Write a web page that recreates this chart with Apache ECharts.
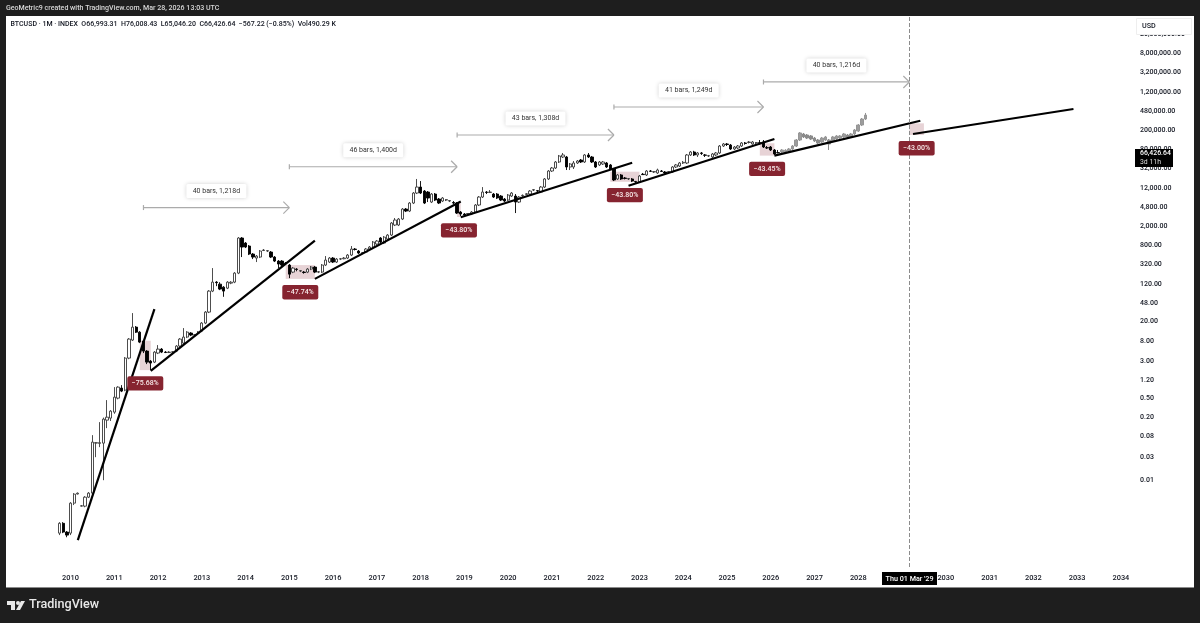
<!doctype html>
<html>
<head>
<meta charset="utf-8">
<title>BTCUSD 1M</title>
<script src="https://cdn.jsdelivr.net/npm/echarts@6/dist/echarts.min.js"></script>
<style>
    body{margin:0;background:#1e1e1e;}
    #main{width:1200px;height:623px;}
</style>
</head>
<body>
<div id="main"></div>
<script>
    // monthly candles, first one is 2009-10
    var firstCandle = '2009-10';
    var opens = [
        .00078,.00125,.00082,.00078,.00329,.0051,.00285,.00285,.00438,.00532,
        .0587,.058,.0587,.177,.195,.26,.509,.824,.748,3.48,
        8.26,15.4,12.1,7.87,4.87,3.01,2.87,4.43,5.36,4.64,
        4.55,4.64,4.87,6.2,7.15,9.55,11.6,10.5,11.6,12.7,
        18.7,31.7,86.8,133.6,121.3,105,100,127.3,133.6,206,
        1110,872,755,514,424,445,610,594,566,445,
        367,367,334,303,216,250,227,216,216,250,
        275,216,216,303,350,424,350,404,410,424,
        490,654,594,539,566,654,719,831,1110,872,
        1055,1280,2070,2070,2760,4460,4050,5950,9620,12830,
        10590,10090,6240,9170,7210,6550,6875,6550,6100,5950,
        3860,3510,3510,3510,3860,5410,7940,10090,9900,9170,
        9170,8330,7210,6875,8330,8330,6240,8400,9000,9170,
        11110,10800,10090,12830,18900,27700,32000,42700,54300,54300,
        33600,33600,40700,46950,42700,59800,54300,42700,37000,38800,
        40700,37000,30500,18900,22900,19800,18900,18900,16800,16300,
        23700,22900,27700,26400,25200,27700,26400,26400,26400,33600,
        35200,40700,40700,59800,69000,59800,65800,59800,57000,54300,
        59800,65800,92000,101300,96500,79700,83600,92000,106300,109000,
        101300,106300,108000,111500,85000,87700,75900,66993
    ];
    var closes = [
        .00125,.00082,.00071,.00329,.00507,.0053,.0029,.00438,.00532,.0616,
        .06,.06,.186,.204,.273,.534,.864,.713,3.48,8.67,
        15.4,12.1,7.5,4.87,2.87,2.74,4.64,5.36,4.64,4.55,
        4.64,4.7,6.2,8.67,9.55,12.1,10.5,10.7,12.1,18.7,
        31.7,86.8,133.6,130,95.5,86.8,133.6,133,206,1110,
        719,719,514,445,467,594,623,605,445,367,
        318,303,325,196,262,245,232,212,250,275,
        216,220,303,385,424,350,404,410,424,490,
        654,640,539,550,654,719,915,960,915,1160,
        1280,2280,2631,2760,4460,4050,5950,9620,12830,9620,
        5950,7570,9170,6875,5950,7570,7000,6700,5950,3680,
        3510,3340,3600,3860,5410,7940,10090,9900,10090,7940,
        7570,6875,6550,8740,9620,6240,7940,8600,9300,10590,
        11300,10590,12830,18900,27700,32000,42700,57000,59800,33600,
        38800,40700,44800,42700,59800,54300,42700,33600,42700,42700,
        33600,30500,17970,22900,18900,19400,19300,17100,16500,21800,
        23300,27700,27300,26900,29050,27200,25200,26900,33600,37000,
        40700,42000,59800,69000,59800,65800,64500,59000,57800,62700,
        65800,92000,101300,99000,79700,87700,92000,106300,104000,111500,
        111500,108000,106300,87700,83600,75900,62700,66427
    ];
    var lows = [
        .00071,.00078,.00064,.00071,.003,.005,.0028,.0027,.0042,.005,
        .0299,.0484,.0099,.1205,.17,.24,.48,.68,.71,3.3,
        7.9,11.6,7.15,4.43,2.61,1.955,2.74,4.22,4.43,4.43,
        4.43,4.43,4.64,5.9,6.82,9.1,10,10,11,12.1,
        17.8,30.2,82.7,110,91,66,95.5,121,127,196,
        445,686,490,404,350,424,594,566,424,350,
        262,275,303,162,206,225,216,200,206,238,
        206,206,206,289,334,334,334,385,400,404,
        467,610,514,514,539,623,686,792,872,831,
        1000,1220,1970,1970,2631,3860,3860,5670,9170,9170,
        5670,6240,5950,6550,5670,6240,6550,6240,5670,3510,
        3190,3190,3340,3340,3680,5150,7570,9170,9620,7570,
        7210,6550,6240,6550,7940,3680,5950,8000,8740,8740,
        10590,10090,9620,12230,18000,26400,30500,40700,51700,29050,
        29050,30500,38800,40700,40700,51700,40700,32000,35200,37000,
        32000,29050,17100,18000,18000,18500,18000,16300,15600,15600,
        22900,21800,26400,25200,24000,26400,24000,25200,25200,32000,
        33600,38800,38800,57000,57000,54300,59800,54300,54300,51700,
        57000,62700,87700,92000,76000,75900,79700,87700,98000,104000,
        98000,101300,99000,83600,79700,72400,59800,65046
    ];
    var highs = [
        .00132,.00132,.00086,.00345,.00532,.0055,.003,.0046,.0056,.0861,
        .0616,.161,.2,.463,.286,.864,.9,.95,3.65,9.1,
        30.2,16.2,12.7,8.26,5.11,3.16,4.87,6.5,5.63,4.87,
        4.87,4.87,6.5,9.1,14.7,12.7,12.1,11,12.7,19.6,
        33.3,91.1,262,140,133,110,140,140,216,1160,
        1160,915,792,539,490,623,654,623,594,467,
        385,385,350,318,275,262,238,227,262,289,
        289,227,318,467,445,445,424,424,445,514,
        755,686,623,566,686,755,960,1007,1160,1220,
        1340,2390,2900,2900,4680,4680,6240,10090,18900,17100,
        11110,10590,9620,9620,7570,7940,7210,6875,6550,6240,
        4050,3680,3680,4050,5670,8330,12800,10590,11110,9620,
        9620,8740,7570,9170,10090,9170,8330,9000,9620,11110,
        11660,11110,13460,19800,29050,33600,44800,59800,65800,57000,
        40700,44800,46950,49300,62700,65800,57000,44800,44800,44800,
        42700,38800,32000,24000,24000,20800,19800,19800,17100,22900,
        25200,29050,29050,27700,31000,29050,27700,27700,35200,38800,
        42700,44800,62700,72400,73000,69000,69000,62700,59800,65800,
        69000,96500,106300,106300,101300,92000,96500,111500,111500,117000,
        117000,111500,122700,122700,92000,92000,79700,76008
    ];

    // grey projected bars after the last real bar
    var ghostStart = '2026-04';
    var ghostOpens = [69000,70000,72400,79700,92000,122700,163800,156000,149000,135000,122700,111500,
        122700,122700,117000,128600,135000,142000,156000,142000,163800,189000,252000,336000];
    var ghostCloses = [75900,75000,79700,92000,122700,172000,142000,135000,128600,117000,106300,135000,
        142000,101300,142000,149000,149000,163800,142000,163800,198400,252000,336000,406000];
    var ghostLows = [65800,67000,69000,75900,87700,117000,135000,128600,122700,111500,101300,106300,
        117000,75900,111500,122700,128600,135000,135000,135000,156000,180000,240000,320000];
    var ghostHighs = [79700,79000,83600,96500,128600,180000,172000,163800,156000,142000,128600,142000,
        149000,128600,149000,156000,156000,172000,163800,172000,208000,264000,353000,450000];

    // black trend lines
    var trendFromMonth = ['2010-03','2011-11','2015-08','2018-12','2022-10','2026-02','2029-04'];
    var trendFromPrice = [.00056,1.89,156,3000,13650,58000,163800];
    var trendToMonth = ['2011-12','2015-08','2018-12','2022-11','2026-02','2029-06','2032-12'];
    var trendToPrice = [36.6,975,6400,41300,128600,310000,544000];

    // grey "bars" arrows
    var rangeFrom = ['2011-09','2015-01','2018-11','2022-06','2025-11'];
    var rangeTo = ['2015-01','2018-11','2022-06','2025-11','2029-03'];
    var rangePrice = [4790,34000,156000,598600,1990000];
    var rangeLabels = ['40 bars, 1,218d','46 bars, 1,400d','43 bars, 1,308d','41 bars, 1,249d','40 bars, 1,216d'];

    // drawdown boxes and their badges
    var dropFrom = ['2011-08','2014-12','2018-11','2022-05','2025-10','2029-03'];
    var dropTo = ['2011-11','2015-08','2018-12','2023-01','2026-02','2029-07'];
    var dropTop = [8,303,5950,26800,104700,273000];
    var dropBottom = [1.955,156,3040,16500,58000,156000];
    var dropLabels = ['\u221275.68%','\u221247.74%','\u221243.80%','\u221243.80%','\u221243.45%','\u221243.00%'];

    var yTicks = [20000000,8000000,3200000,1200000,480000,200000,80000,32000,12000,4800,2000,800,320,120,48,20,8,3,1.2,0.5,0.2,0.08,0.03,0.01];
    var markerMonth = '2029-03';

    var months = [];
    for (var y = 2008; y <= 2034; y++) {
        for (var m = 1; m <= 12; m++) {
            var key = y + '-' + (m < 10 ? '0' + m : m);
            if (key >= '2008-08' && key <= '2034-03') months.push(key);
        }
    }
    var firstIdx = months.indexOf(firstCandle);
    var ghostIdx = months.indexOf(ghostStart);
    var font = 'Roboto';

    var myChart = echarts.init(document.getElementById('main'));

    var trendSeries = trendFromMonth.map(function (from, i) {
        return {
            type: 'line', z: 4, silent: true, showSymbol: false, symbol: 'none',
            lineStyle: {color: '#000', width: 2.2},
            data: [[from, trendFromPrice[i]], [trendToMonth[i], trendToPrice[i]]]
        };
    });

    var option = {
        animation: false,
        backgroundColor: '#1e1e1e',
        grid: {left: 6.7, top: 17, width: 1123.3, height: 550},
        xAxis: {
            type: 'category',
            data: months,
            axisLine: {show: false},
            axisTick: {show: false},
            splitLine: {show: false},
            axisLabel: {
                color: '#131722', fontSize: 7.4, fontWeight: 500, fontFamily: font, margin: 8, hideOverlap: false,
                interval: function (i, v) { return v.slice(5) === '01' && v >= '2010'; },
                formatter: function (v) { return v.slice(0, 4); }
            }
        },
        yAxis: {
            type: 'log',
            logBase: 10,
            position: 'right',
            min: 1.534e-4,
            max: 4.504e7,
            axisLine: {show: false},
            axisTick: {show: false},
            splitLine: {show: false},
            minorTick: {show: false},
            axisLabel: {
                customValues: yTicks,
                color: '#131722', fontSize: 7, fontWeight: 500, fontFamily: font, margin: 10,
                formatter: function (v) {
                    return Number(v).toLocaleString('en-US', {minimumFractionDigits: 2, maximumFractionDigits: 2});
                }
            }
        },
        series: [
            // pink boxes
            {
                type: 'custom', z: 1, silent: true, clip: false,
                data: dropFrom.map(function (d, i) { return [d, dropTop[i]]; }),
                renderItem: function (params, api) {
                    var i = params.dataIndex;
                    var a = api.coord([months.indexOf(dropFrom[i]), dropTop[i]]);
                    var b = api.coord([months.indexOf(dropTo[i]), dropBottom[i]]);
                    return {type: 'rect', shape: {x: a[0], y: a[1], width: b[0] - a[0], height: b[1] - a[1]},
                        style: {fill: 'rgba(134,36,48,0.2)'}};
                }
            },
            {
                type: 'candlestick',
                z: 3,
                silent: true,
                barWidth: 2.8,
                encode: {x: 0, y: [1, 2, 3, 4]},
                data: opens.map(function (o, i) { return [firstIdx + i, o, closes[i], lows[i], highs[i]]; }),
                itemStyle: {color: '#fff', color0: '#000', borderColor: '#3a3a3a', borderColor0: '#000', borderColorDoji: '#222', borderWidth: 0.9}
            },
            {
                type: 'candlestick',
                z: 3,
                silent: true,
                barWidth: 3.2,
                encode: {x: 0, y: [1, 2, 3, 4]},
                data: ghostOpens.map(function (o, i) { return [ghostIdx + i, o, ghostCloses[i], ghostLows[i], ghostHighs[i]]; }),
                itemStyle: {color: '#9c9c9c', color0: '#8a8a8a', borderColor: '#969696', borderColor0: '#8a8a8a', borderWidth: 1},
                markLine: {
                    silent: true, symbol: 'none', label: {show: false},
                    lineStyle: {color: '#8c8c8c', type: 'dashed', width: 1},
                    data: [{xAxis: markerMonth}]
                }
            }
        ].concat(trendSeries).concat([
            // arrows with their bar counts
            {
                type: 'custom', z: 5, silent: true, clip: false,
                data: rangeFrom.map(function (d, i) { return [d, rangePrice[i]]; }),
                renderItem: function (params, api) {
                    var i = params.dataIndex;
                    var a = api.coord([months.indexOf(rangeFrom[i]), rangePrice[i]]);
                    var b = api.coord([months.indexOf(rangeTo[i]), rangePrice[i]]);
                    var mid = (a[0] + b[0]) / 2;
                    var line = {stroke: '#ababab', lineWidth: 1.2};
                    return {type: 'group', children: [
                        {type: 'line', shape: {x1: a[0], y1: a[1], x2: b[0], y2: b[1]}, style: line},
                        {type: 'line', shape: {x1: a[0], y1: a[1] - 2.5, x2: a[0], y2: a[1] + 2.5}, style: line},
                        {type: 'line', shape: {x1: b[0] - 6, y1: a[1] - 6, x2: b[0], y2: b[1]}, style: line},
                        {type: 'line', shape: {x1: b[0] - 6, y1: a[1] + 6, x2: b[0], y2: b[1]}, style: line},
                        {type: 'rect', shape: {x: mid - 30, y: a[1] - 23.5, width: 60, height: 14, r: 1.5},
                            style: {fill: '#fff', shadowBlur: 4, shadowColor: 'rgba(0,0,0,0.18)'}},
                        {type: 'text', style: {text: rangeLabels[i], x: mid, y: a[1] - 16.5, fill: '#333', align: 'center', verticalAlign: 'middle',
                            font: '7px ' + font}}
                    ]};
                }
            },
            // red badges under the boxes
            {
                type: 'custom', z: 6, silent: true, clip: false,
                data: dropFrom.map(function (d, i) { return [d, dropBottom[i]]; }),
                renderItem: function (params, api) {
                    var i = params.dataIndex;
                    var a = api.coord([months.indexOf(dropFrom[i]), dropBottom[i]]);
                    var b = api.coord([months.indexOf(dropTo[i]), dropBottom[i]]);
                    var cx = (a[0] + b[0]) / 2, cy = a[1] + 13.3;
                    return {type: 'group', children: [
                        {type: 'rect', shape: {x: cx - 18, y: cy - 7.2, width: 36, height: 14.4, r: 2}, style: {fill: '#862430'}},
                        {type: 'text', style: {text: dropLabels[i], x: cx, y: cy, fill: '#f7e9e9', align: 'center', verticalAlign: 'middle',
                            font: '500 7px ' + font}}
                    ]};
                }
            }
        ]),
        graphic: [
            {type: 'rect', z: -10, silent: true, shape: {x: 6, y: 16, width: 1188, height: 571}, style: {fill: '#fff'}},
            {type: 'rect', z: -9, silent: true, shape: {x: 6, y: 587, width: 1188, height: 1}, style: {fill: '#8a8a8a'}},
            {type: 'text', z: 20, silent: true, style: {text: 'GeoMetric9 created with TradingView.com, Mar 28, 2026 13:03 UTC', x: 6, y: 8.5,
                fill: '#d8d8d8', verticalAlign: 'middle', font: '500 7.05px ' + font}},
            {type: 'text', z: 20, silent: true, style: {text: 'BTCUSD \u00b7 1M \u00b7 INDEX  O66,993.31  H76,008.43  L65,046.20  C66,426.64  \u2212567.22 (\u22120.85%)  Vol490.29 K',
                x: 10.5, y: 24.5, fill: '#131722', verticalAlign: 'middle', font: '500 7px ' + font}},
            // USD box over the top label
            {type: 'rect', z: 20, silent: true, shape: {x: 1136.5, y: 18.5, width: 55, height: 16}, style: {fill: '#fff', stroke: '#eeeeee', lineWidth: 1}},
            {type: 'text', z: 21, silent: true, style: {text: 'USD', x: 1142, y: 26, fill: '#131722', verticalAlign: 'middle', font: '500 7.2px ' + font}},
            // last price tag
            {type: 'rect', z: 20, silent: true, shape: {x: 1135, y: 149, width: 38, height: 18}, style: {fill: '#000'}},
            {type: 'text', z: 21, silent: true, style: {text: '66,426.64', x: 1140, y: 153.5, fill: '#fff', verticalAlign: 'middle', font: '500 6.9px ' + font}},
            {type: 'text', z: 21, silent: true, style: {text: '3d 11h', x: 1140, y: 162, fill: '#ddd', verticalAlign: 'middle', font: '6.9px ' + font}},
            // date tag on the vertical marker
            {type: 'rect', z: 20, silent: true, shape: {x: 882, y: 572, width: 55, height: 13}, style: {fill: '#000'}},
            {type: 'text', z: 21, silent: true, style: {text: "Thu 01 Mar '29", x: 909.5, y: 579, fill: '#fff', align: 'center', verticalAlign: 'middle', font: '500 7.2px ' + font}},
            // TradingView mark
            {type: 'polygon', z: 20, silent: true, shape: {points: [[7,601],[15,601],[15,610],[11,610],[11,605],[7,605]]}, style: {fill: '#e8e8e8'}},
            {type: 'circle', z: 20, silent: true, shape: {cx: 18, cy: 603, r: 2}, style: {fill: '#e8e8e8'}},
            {type: 'polygon', z: 20, silent: true, shape: {points: [[21,601],[25,601],[20,610],[16,610]]}, style: {fill: '#e8e8e8'}},
            {type: 'text', z: 20, silent: true, style: {text: 'TradingView', x: 29, y: 605, fill: '#e8e8e8', verticalAlign: 'middle', font: '500 12.6px Roboto'}}
        ]
    };

    myChart.setOption(option);
</script>
</body>
</html>
